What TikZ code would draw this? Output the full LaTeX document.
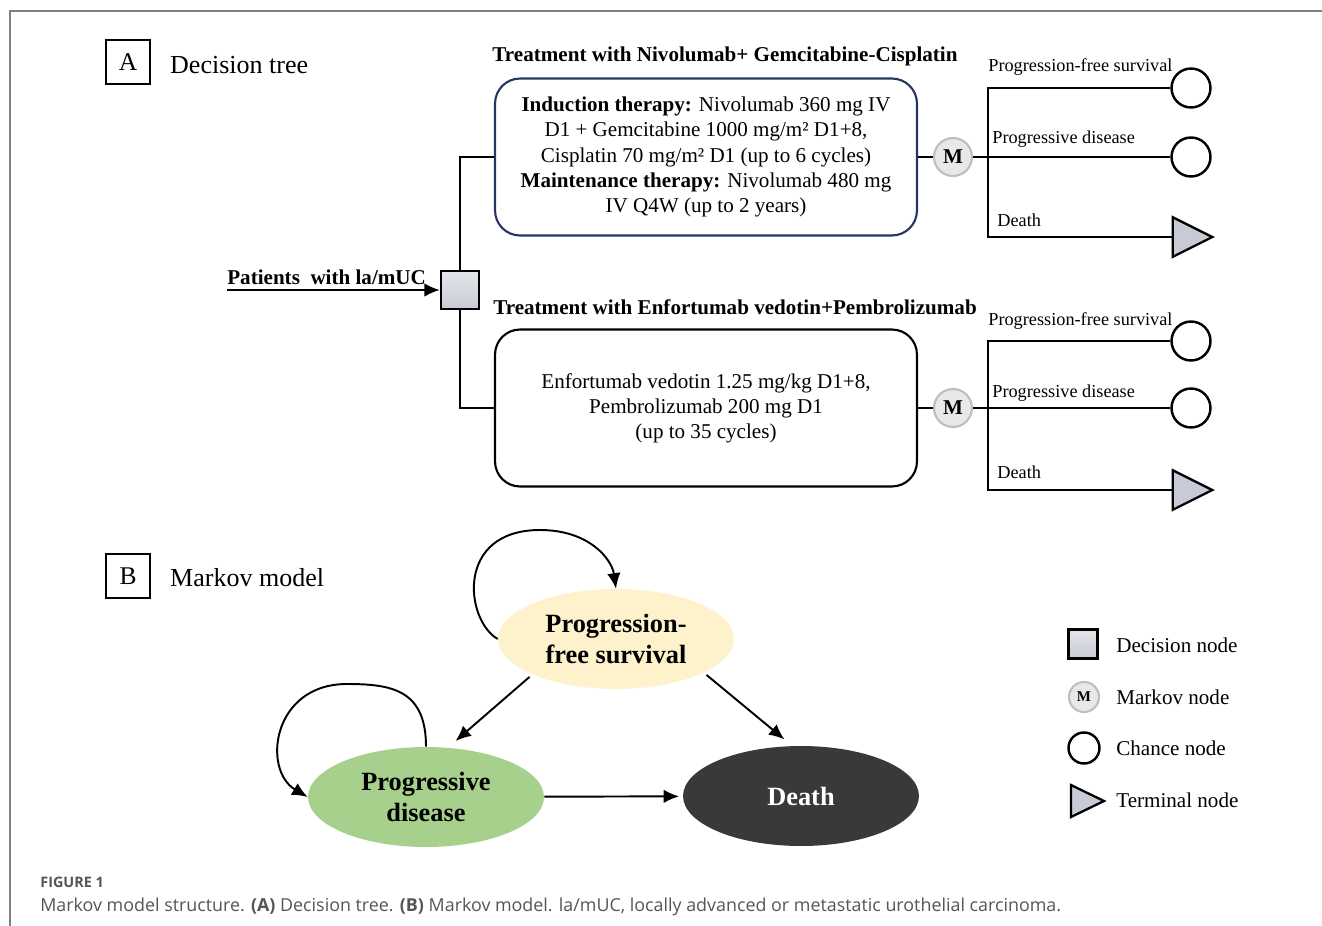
\documentclass[tikz,border=0pt]{standalone}
\usepackage{fontspec}
\setmainfont{Liberation Serif}
\newfontfamily\capfont{Open Sans}
\usetikzlibrary{shapes.geometric,arrows.meta}

\definecolor{framegray}{RGB}{128,128,140}
\definecolor{nodegray}{RGB}{200,203,214}
\definecolor{mgray}{RGB}{232,232,232}
\definecolor{mborder}{RGB}{190,190,190}
\definecolor{navy}{RGB}{38,54,96}
\definecolor{pfsfill}{RGB}{253,242,204}
\definecolor{pdfill}{RGB}{168,208,141}
\definecolor{deathfill}{RGB}{58,56,56}
\definecolor{capgray}{RGB}{85,85,85}

\begin{document}
\begin{tikzpicture}
  [x=0.02cm,y=-0.02cm,
   line/.style={line width=1.1pt},
   arr/.style={line width=1.1pt,-{Latex[length=0.31cm,width=0.27cm]}},
   decnode/.style={rectangle,draw,line width=1.3pt,top color=nodegray!50,bottom color=nodegray,minimum size=0.76cm,inner sep=0},
   markov/.style={circle,draw=mborder,line width=1.2pt,fill=mgray,minimum size=0.76cm,inner sep=0,font=\fontsize{12}{13}\selectfont\bfseries},
   chance/.style={circle,draw,line width=1.4pt,fill=white,minimum size=0.78cm,inner sep=0},
   terminal/.style={isosceles triangle,isosceles triangle stretches,draw,line width=1.3pt,fill=nodegray,minimum width=0.79cm,minimum height=0.79cm,inner sep=0},
   tbox/.style={rectangle,rounded corners=0.5cm,line width=1.2pt,minimum width=8.44cm,minimum height=3.14cm,align=center,font=\fontsize{12}{14.3}\selectfont},
   title/.style={font=\fontsize{12}{13}\selectfont\bfseries},
   branch/.style={anchor=base west,inner sep=0,font=\fontsize{10.4}{12}\selectfont},
   panel/.style={draw,line width=1.2pt,minimum size=0.88cm,inner sep=0,font=\fontsize{14.5}{16}\selectfont},
   heading/.style={anchor=west,font=\fontsize{14.8}{16}\selectfont},
   state/.style={ellipse,minimum width=4.72cm,minimum height=2cm,align=center,font=\fontsize{15}{17.6}\selectfont\bfseries},
   legend/.style={anchor=west,inner sep=0,font=\fontsize{12}{14}\selectfont}]

\useasboundingbox (0,0) rectangle (1322,926);
\draw[framegray,line width=0.8pt] (10,926) -- (10,11) -- (1322,11);

% panel A: decision tree
\node (pA)[panel] at (128,62) {A};
\node (hA)[heading] at (164,65) {Decision tree};

\node (dec)[decnode] at (460,290) {};
\coordinate (pt) at (227,290);
\draw[arr] (pt) -- (dec.west);
\node (pat)[title,anchor=base west,inner sep=0] at (227,284) {Patients\ \ with la/mUC};

\node (ttl1)[title] at (725,56) {Treatment with Nivolumab+ Gemcitabine-Cisplatin};
\node (box1)[tbox,draw=navy] at (706,157)
  {\textbf{Induction therapy:} Nivolumab 360 mg IV\\
   D1 + Gemcitabine 1000 mg/m² D1+8,\\
   Cisplatin 70 mg/m² D1 (up to 6 cycles)\\
   \textbf{Maintenance therapy:} Nivolumab 480 mg\\
   IV Q4W (up to 2 years)};
\node (ttl2)[title] at (735,307) {Treatment with Enfortumab vedotin+Pembrolizumab};
\node (box2)[tbox,draw=black] at (706,408)
  {Enfortumab vedotin 1.25 mg/kg D1+8,\\
   Pembrolizumab 200 mg D1\\
   (up to 35 cycles)};

\draw[line] (dec.north) |- (box1.west);
\draw[line] (dec.south) |- (box2.west);

\node (m1)[markov] at (953,157) {M};
\node (m2)[markov] at (953,408) {M};
\coordinate (s1) at (988,157);
\coordinate (s2) at (988,408);

\node (c1)[chance] at (1191,88) {};
\node (c2)[chance] at (1191,157) {};
\node (t1)[terminal] at (1185,237) {};
\node (c3)[chance] at (1191,341) {};
\node (c4)[chance] at (1191,408) {};
\node (t2)[terminal] at (1185,490) {};

\foreach \from/\to in {box1/m1,m1/s1,box2/m2,m2/s2,s1/c2,s2/c4}
  \draw[line] (\from) -- (\to);
\foreach \from/\to in {s1/c1,s1/t1,s2/c3,s2/t2}
  \draw[line] (\from) |- (\to);

\node (b1)[branch] at (988,72) {Progression-free survival};
\node (b2)[branch] at (992,144) {Progressive disease};
\node (b3)[branch] at (997,226) {Death};
\node (b4)[branch] at (988,325) {Progression-free survival};
\node (b5)[branch] at (992,397) {Progressive disease};
\node (b6)[branch] at (997,478) {Death};

% panel B: Markov model
\node (pB)[panel] at (128,576) {B};
\node (hB)[heading] at (164,578) {Markov model};

\node (pfs)[state,fill=pfsfill] at (616,639) {Progression-\\free survival};
\node (pd)[state,fill=pdfill] at (426,797) {Progressive\\disease};
\node (death)[state,fill=deathfill,text=white] at (801,796) {Death};

\draw[arr,shorten <=2pt,shorten >=0.2cm] (pfs.203) -- (pd.66);
\draw[arr,shorten <=2pt,shorten >=0.2cm] (pfs.339) -- (death.100);
\draw[arr,shorten >=2pt] (pd) -- (death);
\draw[arr] (pfs.west) .. controls (465,620) and (455,530) .. (540,530)
  .. controls (590,530) and (612,560) .. (pfs.north);
\draw[arr] (pd.north) .. controls (426,690) and (392,684) .. (347,684)
  .. controls (272,684) and (262,770) .. (pd.west);

% legend
\node (lg1)[decnode,minimum size=0.58cm] at (1083,644) {};
\node (lg2)[markov,minimum size=0.6cm,font=\fontsize{8.5}{9}\selectfont\bfseries] at (1084,697) {M};
\node (lg3)[chance,minimum size=0.62cm] at (1084,748) {};
\node (lg4)[terminal,minimum width=0.64cm,minimum height=0.66cm] at (1081,801) {};
\node (lt1)[legend] at (1116,645) {Decision node};
\node (lt2)[legend] at (1116,697) {Markov node};
\node (lt3)[legend] at (1116,748) {Chance node};
\node (lt4)[legend] at (1116,800) {Terminal node};

% caption
\node (fig)[anchor=base west,inner sep=0,text=capgray,font=\capfont\bfseries\fontsize{8.2}{10}\selectfont] at (40,887) {FIGURE 1};
\node (cap)[anchor=base west,inner sep=0,text=capgray,font=\capfont\fontsize{10.17}{12}\selectfont] at (40,911)
  {Markov model structure. \textbf{(A)} Decision tree. \textbf{(B)} Markov model. la/mUC, locally advanced or metastatic urothelial carcinoma.};
\end{tikzpicture}
\end{document}
